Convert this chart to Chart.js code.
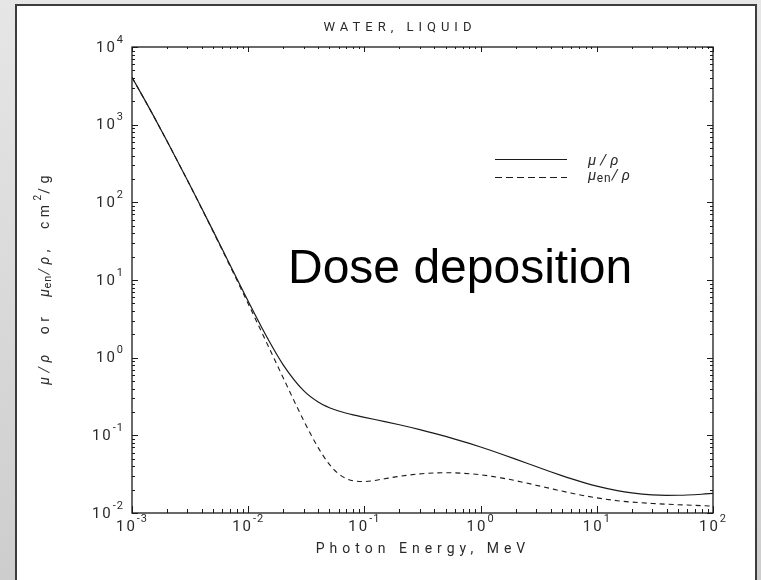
<!DOCTYPE html>
<html>
<head>
<meta charset="utf-8">
<title>Water, liquid</title>
<script src="https://cdn.jsdelivr.net/npm/chart.js@4.4.1/dist/chart.umd.min.js"></script>
<style>
  html, body { margin: 0; padding: 0; background: #e2e2e2; }
  canvas { display: block; }
</style>
</head>
<body>
<canvas id="attChart" width="761" height="580"></canvas>
<script>
// photon energy, MeV
const energies = [0.001, 0.0015, 0.002, 0.003, 0.004, 0.005, 0.006, 0.008, 0.01, 0.015,
  0.02, 0.03, 0.04, 0.05, 0.06, 0.08, 0.1, 0.15, 0.2, 0.3, 0.4, 0.5, 0.6, 0.8, 1.0,
  1.25, 1.5, 2, 3, 4, 5, 6, 8, 10, 15, 20, 30, 40, 50, 60, 80, 100];
// mu/rho, cm2/g
const muRho = [4078, 1376, 617.3, 192.9, 82.78, 42.58, 24.64, 10.37, 5.329, 1.673,
  0.8096, 0.3756, 0.2683, 0.2269, 0.2059, 0.1837, 0.1707, 0.1505, 0.137, 0.1186, 0.1061, 0.09687, 0.08956, 0.07865, 0.07072,
  0.06323, 0.05754, 0.04942, 0.03969, 0.03403, 0.03031, 0.0277, 0.02429, 0.02219, 0.01941, 0.01813, 0.0171, 0.01689, 0.01692, 0.01705, 0.01744, 0.01787];
// mu_en/rho, cm2/g
const muEnRho = [4065, 1372, 615.2, 191.7, 81.91, 41.88, 24.05, 9.915, 4.944, 1.374,
  0.5503, 0.1557, 0.06947, 0.04223, 0.0319, 0.02597, 0.02546, 0.02764, 0.02967, 0.03192, 0.03279, 0.03299, 0.03284, 0.03206, 0.03103,
  0.02965, 0.02833, 0.02608, 0.02281, 0.02066, 0.01915, 0.01806, 0.01658, 0.01566, 0.01441, 0.01382, 0.01327, 0.01298, 0.01279, 0.01265, 0.01243, 0.01226];

const xDecades = [-3, -2, -1, 0, 1, 2];
const yDecades = [-2, -1, 0, 1, 2, 3, 4];

const FONT = 'Roboto, "DejaVu Sans", sans-serif';
const INK = '#1a1a1a';
const TEXT = '#2a2a2a';

function runFont(r) {
  return (r.italic ? 'italic ' : '') + '400 ' + r.size + 'px ' + FONT;
}

// draw a line of text made of pieces (for super/subscripts)
function drawRuns(ctx, runs, x, y, align, spacing) {
  let total = 0;
  const widths = runs.map(r => {
    ctx.font = runFont(r);
    ctx.letterSpacing = (r.sp !== undefined ? r.sp : spacing) + 'px';
    const w = ctx.measureText(r.t).width;
    total += w;
    return w;
  });
  let cx = x;
  if (align === 'center') cx = x - total / 2;
  if (align === 'right') cx = x - total;
  ctx.textAlign = 'left';
  runs.forEach((r, i) => {
    ctx.font = runFont(r);
    ctx.letterSpacing = (r.sp !== undefined ? r.sp : spacing) + 'px';
    ctx.fillText(r.t, cx, y + (r.dy || 0));
    cx += widths[i];
  });
  ctx.letterSpacing = '0px';
}

function powerRuns(e) {
  return [
    { t: '10', size: 15, sp: 2 },
    { t: String(e), size: 11, dy: -8, sp: 1 }
  ];
}

const framePlugin = {
  id: 'frame',
  beforeDraw(chart) {
    const ctx = chart.ctx;
    const W = chart.width, H = chart.height;
    ctx.save();
    const g = ctx.createLinearGradient(0, 0, 0, H);
    g.addColorStop(0, '#e6e6e6');
    g.addColorStop(1, '#cdcdcd');
    ctx.fillStyle = g;
    ctx.fillRect(0, 0, W, H);
    ctx.fillStyle = '#ffffff';
    ctx.fillRect(16, 5, 740, H - 5);
    ctx.strokeStyle = '#3c3c3c';
    ctx.lineWidth = 2;
    ctx.beginPath();
    ctx.moveTo(16, H);
    ctx.lineTo(16, 5);
    ctx.lineTo(756, 5);
    ctx.lineTo(756, H);
    ctx.stroke();
    ctx.restore();
  },
  afterDraw(chart) {
    const ctx = chart.ctx;
    const a = chart.chartArea;
    const xs = chart.scales.x, ys = chart.scales.y;
    ctx.save();
    ctx.strokeStyle = INK;
    ctx.fillStyle = TEXT;

    // plot box
    ctx.lineWidth = 1.3;
    ctx.strokeRect(a.left, a.top, a.right - a.left, a.bottom - a.top);

    // inward ticks
    ctx.lineWidth = 1;
    ctx.beginPath();
    xDecades.forEach((d, i) => {
      for (let m = 1; m <= 9; m++) {
        if (i === xDecades.length - 1 && m > 1) break;
        const px = Math.round(xs.getPixelForValue(m * Math.pow(10, d))) + 0.5;
        const len = m === 1 ? 7 : 4;
        ctx.moveTo(px, a.bottom); ctx.lineTo(px, a.bottom - len);
        ctx.moveTo(px, a.top); ctx.lineTo(px, a.top + len - 2);
      }
    });
    yDecades.forEach((d, i) => {
      for (let m = 1; m <= 9; m++) {
        if (i === yDecades.length - 1 && m > 1) break;
        const py = Math.round(ys.getPixelForValue(m * Math.pow(10, d))) + 0.5;
        const len = m === 1 ? 6 : 3;
        ctx.moveTo(a.left, py); ctx.lineTo(a.left + len, py);
        ctx.moveTo(a.right, py); ctx.lineTo(a.right - len, py);
      }
    });
    ctx.stroke();

    // tick labels
    ctx.textBaseline = 'middle';
    xDecades.forEach(d => {
      const px = xs.getPixelForValue(Math.pow(10, d));
      drawRuns(ctx, powerRuns(d), px, a.bottom + 14, 'center', 1);
    });
    yDecades.forEach(d => {
      const py = ys.getPixelForValue(Math.pow(10, d));
      drawRuns(ctx, powerRuns(d), a.left - 8, py + 1, 'right', 1);
    });

    // title and axis titles
    drawRuns(ctx, [{ t: 'WATER, LIQUID', size: 13 }], 400, 28, 'center', 5);
    drawRuns(ctx, [{ t: 'Photon Energy, MeV', size: 14 }], 423, 549, 'center', 5);

    ctx.save();
    ctx.translate(45, 278);
    ctx.rotate(-Math.PI / 2);
    drawRuns(ctx, [
      { t: 'μ/ρ', size: 14, italic: true },
      { t: '  or  ', size: 14 },
      { t: 'μ', size: 14, italic: true, sp: 0.5 },
      { t: 'en', size: 11, dy: 3, sp: 1 },
      { t: '/ρ', size: 14, italic: true },
      { t: ',  cm', size: 14 },
      { t: '2', size: 10, dy: -7, sp: 1 },
      { t: '/g', size: 14 }
    ], 0, 0, 'center', 4.5);
    ctx.restore();

    // legend
    ctx.lineWidth = 1.2;
    ctx.beginPath();
    ctx.moveTo(495, 159.5); ctx.lineTo(567, 159.5);
    ctx.stroke();
    ctx.setLineDash([7, 4]);
    ctx.beginPath();
    ctx.moveTo(495, 177.5); ctx.lineTo(567, 177.5);
    ctx.stroke();
    ctx.setLineDash([]);
    drawRuns(ctx, [{ t: 'μ/ρ', size: 15, italic: true }], 588, 161, 'left', 4);
    drawRuns(ctx, [
      { t: 'μ', size: 15, italic: true, sp: 0.5 },
      { t: 'en', size: 12, dy: 3, sp: 1 },
      { t: '/ρ', size: 15, italic: true }
    ], 588, 176, 'left', 4);

    // big annotation
    ctx.fillStyle = '#000000';
    ctx.font = '48px "Liberation Sans", Arial, sans-serif';
    ctx.textAlign = 'left';
    ctx.textBaseline = 'alphabetic';
    ctx.fillText('Dose deposition', 288, 283);
    ctx.restore();
  }
};

const ctx = document.getElementById('attChart').getContext('2d');

const attChart = new Chart(ctx, {
  type: 'line',
  data: {
    datasets: [{
      label: 'μ/ρ',
      data: energies.map((e, i) => ({ x: e, y: muRho[i] })),
      borderColor: INK,
      borderWidth: 1.2,
      pointRadius: 0,
      cubicInterpolationMode: 'monotone'
    }, {
      label: 'μen/ρ',
      data: energies.map((e, i) => ({ x: e, y: muEnRho[i] })),
      borderColor: INK,
      borderWidth: 1.1,
      borderDash: [5, 4],
      pointRadius: 0,
      cubicInterpolationMode: 'monotone'
    }]
  },
  options: {
    responsive: false,
    animation: false,
    devicePixelRatio: 1,
    layout: { padding: { left: 132, top: 47, right: 48, bottom: 67 } },
    plugins: {
      legend: { display: false },
      tooltip: { enabled: false }
    },
    scales: {
      x: { type: 'logarithmic', min: 0.001, max: 100, display: false },
      y: { type: 'logarithmic', min: 0.01, max: 10000, display: false }
    }
  },
  plugins: [framePlugin]
});
</script>
</body>
</html>
